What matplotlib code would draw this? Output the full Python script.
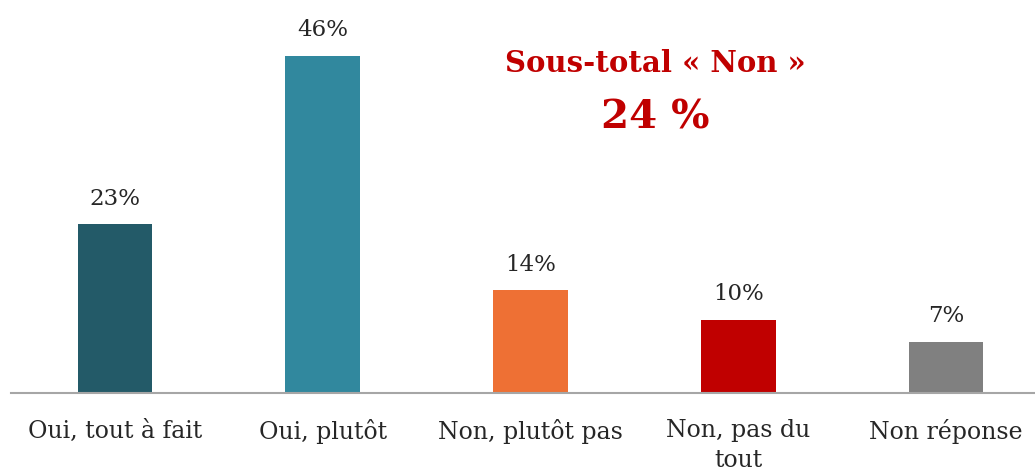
import matplotlib.pyplot as plt
import numpy as np

categories = ["Oui, tout à fait", "Oui, plutôt", "Non, plutôt pas", "Non, pas du\ntout", "Non réponse"]
values = [23, 46, 14, 10, 7]
colors = ["#235A68", "#31889E", "#EE7034", "#C00000", "#808080"]
subtotal_title = "Sous-total « Non »"
subtotal_value = "24 %"

plt.rcParams["font.family"] = ["DejaVu Serif"]

fig = plt.figure(figsize=(10.35, 4.73), dpi=100)
ax = fig.add_axes([0.0107, 0.169, 1.0037, 0.775])

index = np.arange(len(categories))
ax.bar(index, values, width=0.36, color=colors)

for i, v in zip(index, values):
    ax.text(i, v + 2.0, f"{v}%", ha="center", va="bottom", fontsize=16.5, color="#262626")

ax.set_xlim(-0.5, len(categories) - 0.5)
ax.set_ylim(0, 50)
ax.set_xticks(index)
ax.set_xticklabels(categories, fontsize=17, color="#262626", linespacing=1.35, va="top")
ax.tick_params(axis="x", length=0, pad=19)
ax.set_yticks([])

for side in ["top", "right", "left"]:
    ax.spines[side].set_visible(False)
ax.spines["bottom"].set_color("#A6A6A6")
ax.spines["bottom"].set_linewidth(1.5)

fig.text(0.633, 0.866, subtotal_title, ha="center", va="center", fontsize=21,
         fontweight="bold", color="#C00000")
fig.text(0.633, 0.752, subtotal_value, ha="center", va="center", fontsize=29,
         fontweight="bold", color="#C00000")

fig.savefig("out.png", dpi=100)
